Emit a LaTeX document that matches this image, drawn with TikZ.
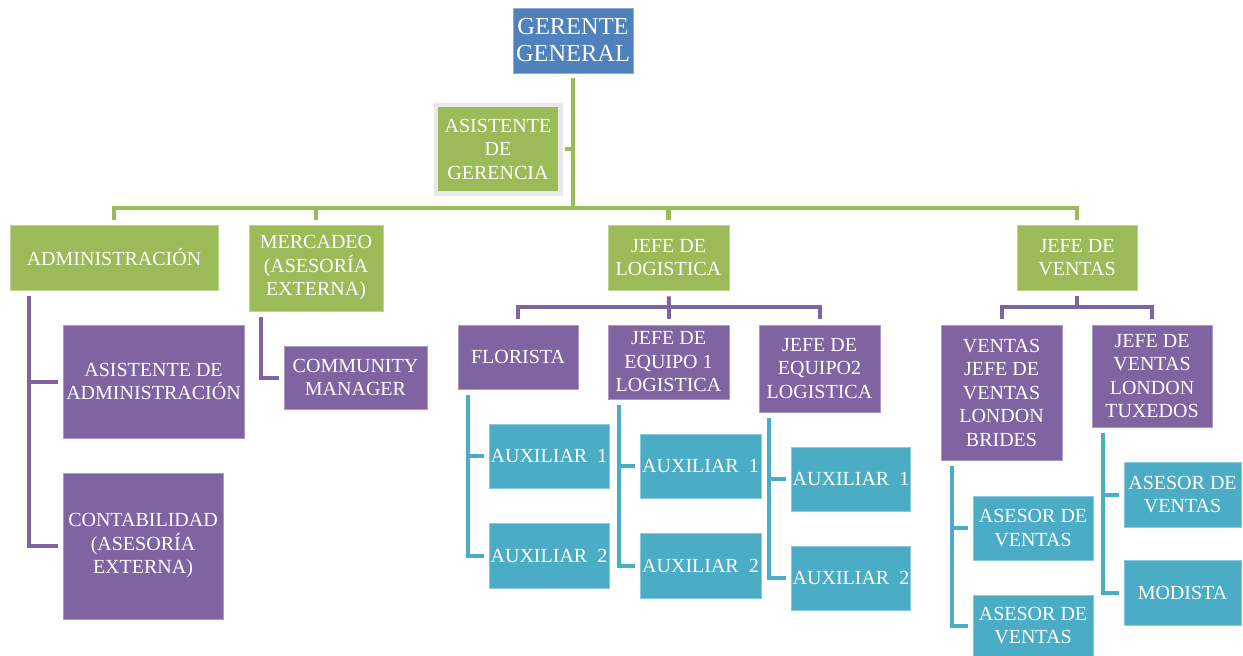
\documentclass[tikz,border=0pt]{standalone}
\usepackage{fontspec}
\setmainfont{Liberation Serif}

\definecolor{bossblue}{HTML}{4F81BD}
\definecolor{areagreen}{HTML}{9BBB59}
\definecolor{unitpurple}{HTML}{8064A2}
\definecolor{auxteal}{HTML}{4BACC6}

\begin{document}
\begin{tikzpicture}[x=1pt, y=-1pt,
    orgbox/.style={fill=#1, draw=#1!65!white, line width=0.8pt, text=white,
                   align=center, inner sep=1pt,
                   font=\fontsize{20}{23.5}\selectfont},
    wh/.style 2 args={minimum width=#1pt, minimum height=#2pt},
    bossbox/.style={orgbox=bossblue, font=\fontsize{24.4}{27}\selectfont},
    greenbox/.style={orgbox=areagreen},
    purplebox/.style={orgbox=unitpurple},
    tealbox/.style={orgbox=auxteal},
    greenlink/.style={draw=areagreen, line width=4.5pt},
    purplelink/.style={draw=unitpurple, line width=4pt},
    teallink/.style={draw=auxteal, line width=4pt},
]
    \useasboundingbox (0,0) rectangle (1243,656);

    % top
    \node[bossbox, wh={120}{65}] (gg) at (573,40.5) {GERENTE\\GENERAL};
    \node[greenbox, draw=gray!18, line width=4.5pt, wh={124.5}{88.5}] (asger)
        at (498,149) {ASISTENTE\\DE\\GERENCIA};

    % areas
    \node[greenbox, wh={208}{65}] (adm) at (114,257.5) {ADMINISTRACIÓN};
    \node[greenbox, wh={134}{86}] (merc) at (316,268) {MERCADEO\\(ASESORÍA\\EXTERNA)};
    \node[greenbox, wh={121}{65}] (jlog) at (668.5,257.5) {JEFE DE\\LOGISTICA};
    \node[greenbox, wh={120}{65}] (jven) at (1077,257.5) {JEFE DE\\VENTAS};

    % administracion and mercadeo
    \node[purplebox, wh={181}{113}] (asad) at (153.5,381.5) {ASISTENTE DE\\ADMINISTRACIÓN};
    \node[purplebox, wh={160}{146}] (cont) at (143,546) {CONTABILIDAD\\(ASESORÍA\\EXTERNA)};
    \node[purplebox, wh={143}{63}] (comm) at (355.5,377.5) {COMMUNITY\\MANAGER};

    % logistica
    \node[purplebox, wh={120}{64}] (flor) at (518,357) {FLORISTA};
    \node[purplebox, wh={121}{74}] (jeq1) at (668.5,362) {JEFE DE\\EQUIPO 1\\LOGISTICA};
    \node[purplebox, wh={121}{87}] (jeq2) at (819.5,368.5) {JEFE DE\\EQUIPO2\\LOGISTICA};
    \node[tealbox, wh={120}{64}] (flaux1) at (549,456) {AUXILIAR\ \ 1};
    \node[tealbox, wh={120}{65}] (flaux2) at (549,555.5) {AUXILIAR\ \ 2};
    \node[tealbox, wh={121}{64}] (eqaux1) at (700.5,466) {AUXILIAR\ \ 1};
    \node[tealbox, wh={121}{65}] (eqaux2) at (700.5,565.5) {AUXILIAR\ \ 2};
    \node[tealbox, wh={118}{64}] (eqbaux1) at (851,479) {AUXILIAR\ \ 1};
    \node[tealbox, wh={118}{64}] (eqbaux2) at (851,578) {AUXILIAR\ \ 2};

    % ventas
    \node[purplebox, wh={121}{135}] (brides) at (1001.5,392.5)
        {VENTAS\\JEFE DE\\VENTAS\\LONDON\\BRIDES};
    \node[purplebox, wh={120}{102}] (tux) at (1152,376) {JEFE DE\\VENTAS\\LONDON\\TUXEDOS};
    \node[tealbox, wh={120}{64}] (braux1) at (1033,528) {ASESOR DE\\VENTAS};
    \node[tealbox, wh={120}{61}] (braux2) at (1033,625.5) {ASESOR DE\\VENTAS};
    \node[tealbox, wh={117}{65}] (txaux1) at (1182.5,494.5) {ASESOR DE\\VENTAS};
    \node[tealbox, wh={117}{65}] (txaux2) at (1182.5,592.5) {MODISTA};

    % green connectors
    \coordinate (topbus) at (573,208);
    \draw[greenlink, shorten <=5pt] (gg) -- (topbus);
    \draw[greenlink, shorten <=2pt] (asger) -- (asger -| topbus);
    \foreach \n in {adm,merc,jlog,jven}
        \draw[greenlink, shorten >=5pt] (topbus) -| (\n);

    % purple connectors
    \coordinate (logbus) at (669,307);
    \coordinate (venbus) at (1077,307);
    \draw[purplelink, shorten <=6pt] (jlog) -- (logbus);
    \draw[purplelink, shorten <=6pt] (jven) -- (venbus);
    \foreach \n in {flor,jeq1,jeq2}
        \draw[purplelink, shorten >=6pt] (logbus) -| (\n);
    \foreach \n in {brides,tux}
        \draw[purplelink, shorten >=6pt] (venbus) -| (\n);
    \foreach \p/\c/\o in {adm/asad/19, adm/cont/19, merc/comm/12}
        \draw[purplelink, shorten <=6pt, shorten >=5pt]
            ([xshift=\o pt]\p.south west) |- (\c);

    % teal connectors
    \foreach \p/\c/\o in {flor/flaux1/10, flor/flaux2/10, jeq1/eqaux1/11,
        jeq1/eqaux2/11, jeq2/eqbaux1/10, jeq2/eqbaux2/10, brides/braux1/11,
        brides/braux2/11, tux/txaux1/11, tux/txaux2/11}
        \draw[teallink, shorten <=6pt, shorten >=5pt]
            ([xshift=\o pt]\p.south west) |- (\c);

\end{tikzpicture}
\end{document}
